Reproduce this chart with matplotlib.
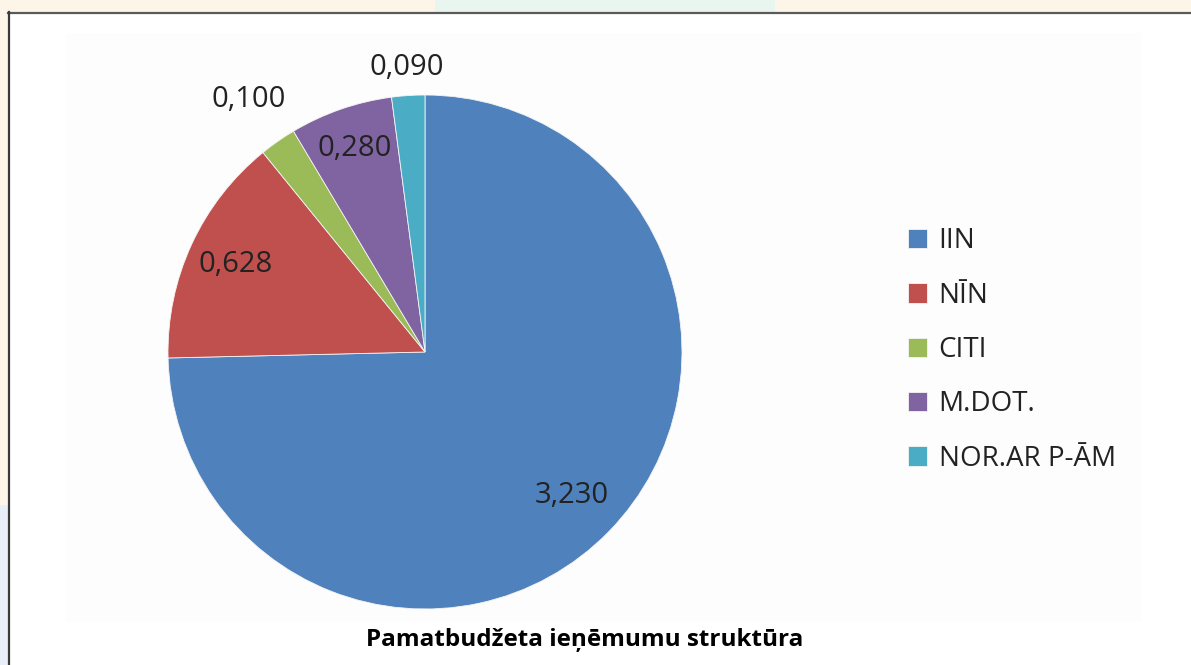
import matplotlib
matplotlib.use('Agg')
import matplotlib.pyplot as plt
import numpy as np
from matplotlib.patches import Rectangle

# data
labels = ['IIN', 'NĪN', 'CITI', 'M.DOT.', 'NOR.AR P-ĀM']
values = [3.230, 0.628, 0.100, 0.280, 0.090]
value_text = ['3,230', '0,628', '0,100', '0,280', '0,090']
title = 'Pamatbudžeta ieņēmumu struktūra'

colors = ['#4f81bd', '#c0504d', '#9bbb59', '#8064a2', '#4bacc6']
label_r = [0.80, 0.81, 1.20, 0.84, 1.11]   # radial position of each value label
FONT = ['Open Sans', 'DejaVu Sans']

W, H = 1191, 665
fig = plt.figure(figsize=(W / 100, H / 100), dpi=100)
fig.patch.set_facecolor('#fdf6e8')


def px(x0, y0, x1, y1):
    """pixel box (top-left origin) -> figure fraction rect"""
    return [x0 / W, 1 - y1 / H, (x1 - x0) / W, (y1 - y0) / H]


# decorative frame strips
bg = fig.add_axes([0, 0, 1, 1])
bg.set_xlim(0, W)
bg.set_ylim(H, 0)
bg.axis('off')
bg.add_patch(Rectangle((435, 0), 340, 12, fc='#e9f5ef', ec='none'))
bg.add_patch(Rectangle((0, 505), 8, 160, fc='#e8eff8', ec='none'))
bg.add_patch(Rectangle((8, 12), W - 8, H - 12, fc='white', ec='none'))
bg.add_patch(Rectangle((66, 33), 1075, 589, fc='#fdfdfd', ec='none'))
bg.plot([8, W], [12.5, 12.5], color='#5a5a5a', lw=1.6)
bg.plot([8.5, 8.5], [12, H], color='#3a3a3a', lw=1.6)

# pie
ax = fig.add_axes(px(168, 95, 682, 609))
wedges, _ = ax.pie(values, colors=colors, startangle=90, counterclock=False,
                   wedgeprops=dict(linewidth=0.6, edgecolor='#f4f4f4'))
ax.set_xlim(-1, 1)
ax.set_ylim(-1, 1)
ax.set_aspect('equal')

for w, txt, r in zip(wedges, value_text, label_r):
    ang = np.deg2rad((w.theta1 + w.theta2) / 2)
    ax.text(r * np.cos(ang), r * np.sin(ang), txt, ha='center', va='center',
            fontsize=21, color='#222222', family=FONT, clip_on=False)

# legend
fig.legend(wedges, labels, loc='center left', bbox_to_anchor=(883 / W, 1 - 350 / H),
           frameon=False, prop=dict(family=FONT, size=20),
           handlelength=0.7, handleheight=0.7, handletextpad=0.4,
           labelspacing=0.95, labelcolor='#222222')

fig.text(585 / W, 1 - 640 / H, title, ha='center', va='center',
         fontsize=17.5, fontweight='bold', family=FONT, color='black')

fig.savefig('out.png', dpi=100, facecolor=fig.get_facecolor())
